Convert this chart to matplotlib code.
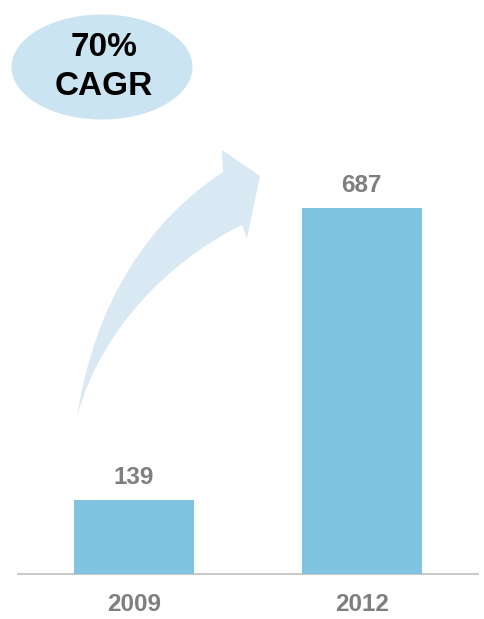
import matplotlib.pyplot as plt
from matplotlib.patches import Ellipse, PathPatch
from matplotlib.path import Path

years = ['2009', '2012']
values = [139, 687]
cagr_text = '70%\nCAGR'

bar_color = '#80c4e2'
label_color = '#7f7f7f'

plt.rcParams['font.family'] = ['Liberation Sans', 'DejaVu Sans']

W, H = 485, 619
fig = plt.figure(figsize=(W / 100, H / 100), dpi=100)
ax = fig.add_axes([18 / W, (H - 574) / H, 460 / W, 574 / H])

x = range(len(years))
bars = ax.bar(x, values, width=0.526, color=bar_color, zorder=3)
ax.set_xlim(-0.51, 1.51)
ax.set_ylim(0, 1077)

for b, v in zip(bars, values):
    ax.annotate(str(v), (b.get_x() + b.get_width() / 2, v),
                xytext=(0, 8), textcoords='offset points',
                ha='center', va='bottom', fontsize=17.5, fontweight='bold',
                color=label_color)

for s in ['top', 'right', 'left']:
    ax.spines[s].set_visible(False)
ax.spines['bottom'].set_color('#c0c0c0')
ax.spines['bottom'].set_linewidth(1.2)
ax.set_yticks([])
ax.set_xticks(list(x))
ax.set_xticklabels(years, fontsize=17.5, fontweight='bold', color=label_color)
ax.tick_params(axis='x', length=0, pad=14)


# decorative curved arrow, drawn in pixel coords of the picture
def px(p):
    return (p[0] / W, 1 - p[1] / H)


pts = [(77, 417), (95, 300), (150, 220), (223, 172),
       (222, 150), (260, 176), (247, 238), (242, 225),
       (170, 260), (100, 330), (77, 417), (77, 417)]
codes = [Path.MOVETO, Path.CURVE4, Path.CURVE4, Path.CURVE4,
         Path.LINETO, Path.LINETO, Path.LINETO, Path.LINETO,
         Path.CURVE4, Path.CURVE4, Path.CURVE4, Path.CLOSEPOLY]
arrow = PathPatch(Path([px(p) for p in pts], codes), transform=fig.transFigure,
                  facecolor='#d8e9f4', edgecolor='none', zorder=1)
fig.patches.append(arrow)

ell = Ellipse(px((102, 67)), 181 / W, 105 / H, transform=fig.transFigure,
              facecolor='#cbe4f1', edgecolor='none', zorder=1)
fig.patches.append(ell)
fig.text(104 / W, 1 - 67 / H, cagr_text, ha='center', va='center',
         fontsize=24, fontweight='bold', color='black', linespacing=1.3)

fig.savefig('out.png', dpi=100)
